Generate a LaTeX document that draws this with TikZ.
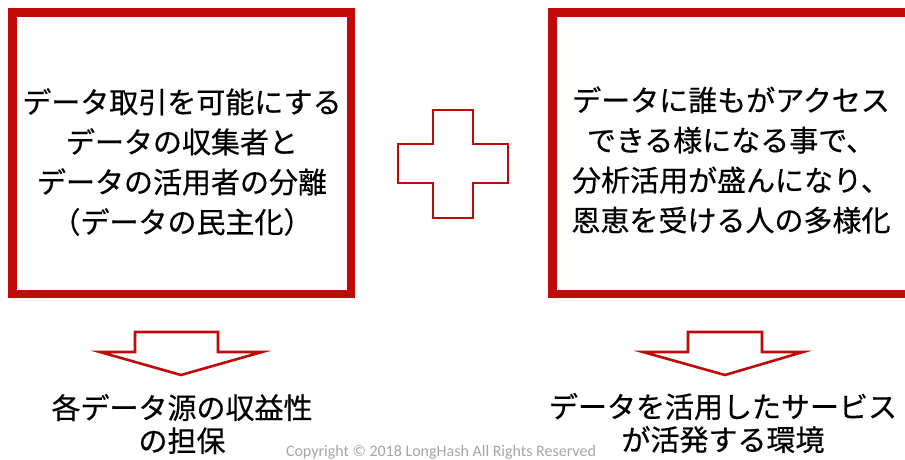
\documentclass[tikz,border=0pt]{standalone}
\usepackage{fontspec}
\newfontfamily\jp[FakeBold=0.5]{Noto Sans CJK JP}
\newfontfamily\cpfont{Carlito}
\definecolor{boxred}{RGB}{192,10,10}
\definecolor{cpgray}{RGB}{165,165,165}
\begin{document}
\begin{tikzpicture}[x=1pt,y=-1pt,
  bigbox/.style={draw=boxred, line width=8.5pt, fill=white},
  outline/.style={draw=boxred, line width=2.6pt, line join=miter, fill=white},
  jptext/.style={font=\jp\fontsize{29}{40}\selectfont, align=center, inner sep=0pt, text=black},
  bottomtext/.style={font=\jp\fontsize{29}{33}\selectfont, align=center, inner sep=0pt, text=black}]
\useasboundingbox (0,0) rectangle (905,459);
\begin{scope}
\clip (0,0) rectangle (905,459);
% boxes
\draw[bigbox] (12.5,12.5) rectangle (351,294);
\draw[bigbox] (552.5,12.5) rectangle (925,294);
% plus sign
\draw[outline] (433,110) -- (473,110) -- (473,144) -- (508,144) -- (508,183) -- (473,183) -- (473,218) -- (433,218) -- (433,183) -- (398,183) -- (398,144) -- (433,144) -- cycle;
% down arrows
\draw[outline] (135,332) -- (218,332) -- (218,352) -- (262,352) -- (181,375) -- (100,352) -- (135,352) -- cycle;
\draw[outline] (688,332) -- (762,332) -- (762,352) -- (803,352) -- (725,375) -- (643,352) -- (688,352) -- cycle;
% texts
\node[jptext] (lefttext) at (182,162) {データ取引を可能にする\\データの収集者と\\データの活用者の分離\\（データの民主化）};
\node[jptext] (righttext) at (731,160) {データに誰もがアクセス\\できる様になる事で、\\分析活用が盛んになり、\\恩恵を受ける人の多様化};
\node[bottomtext] (leftresult) at (182,424) {各データ源の収益性\\の担保};
\node[bottomtext] (rightresult) at (723,423) {データを活用したサービス\\が活発する環境};
\node[font=\cpfont\fontsize{16}{18}\selectfont, text=cpgray, anchor=base, inner sep=0pt] (copyright) at (441,456) {Copyright © 2018 LongHash All Rights Reserved};
\end{scope}
\end{tikzpicture}
\end{document}
